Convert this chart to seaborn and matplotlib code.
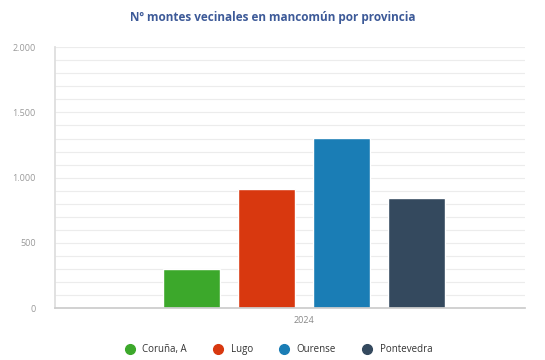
import pandas as pd
import seaborn as sns
import matplotlib.pyplot as plt
from matplotlib.lines import Line2D
from matplotlib.ticker import FuncFormatter, MultipleLocator

# data
years = ["2024"]
provinces = ["Coruña, A", "Lugo", "Ourense", "Pontevedra"]
values = [299, 910, 1305, 843]
colors = ["#3ca82b", "#d8380f", "#1a7db5", "#34495e"]

df = pd.DataFrame({"year": years * len(provinces),
                   "provincia": provinces,
                   "montes": values})

sns.set_theme(style="white")
plt.rcParams['font.family'] = ['Open Sans', 'DejaVu Sans']

fig = plt.figure(figsize=(5.45, 3.6), dpi=100)
ax = fig.add_axes([0.101, 0.144, 0.862, 0.725])

sns.barplot(data=df, x="year", y="montes", hue="provincia",
            palette=colors, width=0.8, gap=0.23, saturation=1,
            legend=False, ax=ax)

ax.set_xlim(-0.664, 0.589)
ax.set_ylim(0, 2000)

# light grid every 100
ax.yaxis.set_major_locator(MultipleLocator(500))
ax.yaxis.set_minor_locator(MultipleLocator(100))
ax.grid(axis="y", which="both", color="#ececec", linewidth=0.8)
ax.set_axisbelow(True)
ax.yaxis.set_major_formatter(FuncFormatter(lambda v, p: f"{int(v):,}".replace(",", ".")))

for s in ["top", "right"]:
    ax.spines[s].set_visible(False)
ax.spines["left"].set_color("#dddddd")
ax.spines["bottom"].set_color("#cccccc")
ax.tick_params(axis="y", labelsize=6.5, labelcolor="#999999", length=0, pad=14)
ax.tick_params(axis="x", labelsize=6.5, labelcolor="#888888", length=0, pad=6)
ax.set_xlabel("")
ax.set_ylabel("")

fig.text(0.500, 0.952, "Nº montes vecinales en mancomún por provincia",
         ha="center", va="center", fontsize=8.5, fontweight="bold", color="#3d5a98")

handles = [Line2D([0], [0], marker="o", linestyle="", markersize=7,
                  markerfacecolor=c, markeredgecolor=c) for c in colors]
fig.legend(handles, provinces, loc="center", bbox_to_anchor=(0.507, 0.028),
           ncol=4, frameon=False, handletextpad=0.3,
           columnspacing=2.2, labelcolor="#333333",
           prop={"size": 7})

plt.savefig("out.png", dpi=100)
